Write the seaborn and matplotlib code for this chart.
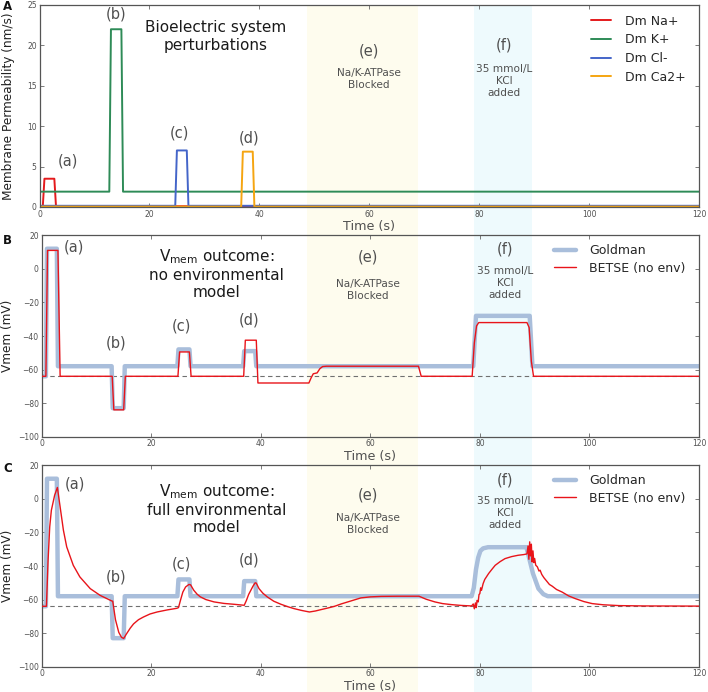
import numpy as np
import pandas as pd
import matplotlib
matplotlib.use("Agg")
import matplotlib.pyplot as plt
import matplotlib.transforms as mtransforms
from matplotlib.patches import Rectangle
from matplotlib.lines import Line2D
import seaborn as sns

# ---------------- data ----------------
x_ticks = [0, 20, 40, 60, 80, 100, 120]
yA_ticks = [0, 5, 10, 15, 20, 25]
yBC_ticks = [-100, -80, -60, -40, -20, 0, 20]

# Panel A: membrane permeabilities (nm/s)
na_t = [0, 0.6, 0.9, 2.7, 3.0, 120]
na_v = [0.1, 0.1, 3.5, 3.5, 0.1, 0.1]
k_t = [0, 12.7, 13.0, 14.9, 15.2, 120]
k_v = [1.9, 1.9, 22.0, 22.0, 1.9, 1.9]
cl_t = [0, 24.7, 25.0, 26.8, 27.1, 120]
cl_v = [0.15, 0.15, 7.0, 7.0, 0.15, 0.15]
ca_t = [0, 36.7, 37.0, 38.8, 39.1, 120]
ca_v = [0.05, 0.05, 6.85, 6.85, 0.05, 0.05]

# Panel B: Vmem, no environmental model (mV)
gB_t = [0, 0.8, 1.0, 2.8, 3.0, 12.8, 13.0, 15.0, 15.2, 24.8, 25.0, 27.0, 27.2,
        36.8, 37.0, 39.0, 39.2, 78.8, 79.3, 89.1, 89.6, 120]
gB_v = [-64, -64, 12, 12, -58, -58, -83, -83, -58, -58, -48, -48, -58,
        -58, -49, -49, -58, -58, -28, -28, -58, -58]
bB_t = [0, 0.8, 1.1, 3.0, 3.4, 12.9, 13.2, 15.0, 15.3, 24.9, 25.2, 27.0, 27.3,
        36.9, 37.2, 39.2, 39.5, 48.8, 49.2, 49.6, 50.3, 50.8, 51.3, 52.0, 68.8,
        69.3, 78.6, 79.0, 79.4, 79.8, 88.6, 89.0, 89.4, 89.8, 120]
bB_v = [-64, -64, 11, 11, -64, -64, -84, -84, -64, -64, -49.5, -49.5, -64,
        -64, -42.5, -42.5, -68, -68, -65, -62.5, -62, -59.5, -58.2, -58, -58,
        -64, -64, -44, -34, -32, -32, -35, -55, -64, -64]

# Panel C: Vmem, full environmental model (mV)
gC_t = [0, 0.8, 1.0, 2.8, 3.0, 12.8, 13.0, 15.0, 15.2, 24.8, 25.0, 27.0, 27.2,
        36.8, 37.0, 39.0, 39.2, 78.5, 78.9, 79.3, 79.7, 80.1, 80.6, 81.5, 88.5,
        89.1, 89.7, 90.7, 91.6, 92.4, 120]
gC_v = [-64, -64, 12, 12, -58, -58, -83, -83, -58, -58, -48, -48, -58,
        -58, -49, -49, -58, -58, -53, -42, -35, -31, -29.5, -28.8, -28.8,
        -36.6, -44.5, -53.5, -56.8, -58, -58]
bC_t = [0, 0.9, 1.2, 1.5, 1.8, 2.4, 2.9, 3.4, 4.0, 4.6, 5.8, 7.0, 8.9, 10.7,
        12.8, 13.0, 13.5, 14.1, 14.6, 15.0, 15.5, 16.2, 16.8, 17.7, 18.6, 19.8,
        21.1, 22.9, 24.7, 25.0, 25.4, 25.8, 26.3, 26.9, 27.2, 27.8, 28.4, 29.0,
        30.0, 31.5, 33.3, 35.1, 37.0, 37.4, 37.8, 38.2, 38.6, 39.0, 39.2, 39.7,
        40.4, 41.2, 42.4, 43.7, 45.0, 46.1, 47.5, 48.9, 50.0, 51.0, 52.3, 53.5,
        54.7, 55.9, 57.1, 58.3, 60.0, 62.0, 65.0, 68.9, 70.2, 71.8, 73.2, 74.8,
        76.6, 78.5, 78.8, 79.0, 79.2, 79.35, 79.5, 79.7, 79.85, 80.0, 80.15,
        80.3, 80.6, 80.9, 81.2, 81.6, 82.2, 82.8, 83.7, 84.6, 85.8, 87.0, 88.0,
        88.6, 88.8, 88.95, 89.1, 89.25, 89.4, 89.55, 89.7, 89.85, 90.0, 90.2,
        90.5, 90.8, 91.0, 91.3, 91.7, 92.2, 92.7, 93.2, 94.0, 95.0, 96.2, 97.4,
        99.0, 100.5, 102.5, 105.4, 110.0, 120.0]
bC_v = [-64, -64, -36.6, -16.7, -6.8, 2.2, 6.8, -4.8, -18.7, -28.6, -39.6,
        -46.5, -53.5, -57.5, -60.8, -61, -72, -79.5, -82.5, -83.2, -80.5, -77,
        -74.5, -72, -70.4, -68.6, -67.4, -66.2, -65.2, -64.8, -60, -55.5, -52.5,
        -51, -51.2, -54.5, -56.8, -58.4, -60, -61.4, -62.3, -62.8, -63.4, -60.5,
        -57, -54.5, -52, -50, -50.2, -53.5, -56.2, -58.4, -61, -62.8, -64.3,
        -65.4, -66.5, -67.4, -66.8, -66, -65, -64, -62.6, -61.4, -60.2, -59,
        -58.4, -58.1, -58, -58, -59.8, -61.4, -62.4, -63, -63.5, -63.8, -62.6,
        -65.5, -62, -64.8, -60.5, -61.4, -57, -56.5, -53, -54.5, -50.5, -48,
        -46.5, -44.5, -42, -39.6, -37.4, -35.6, -34.4, -33.6, -33.2, -32.8, -28,
        -36, -25.6, -34, -27, -37.6, -31, -38, -35.5, -39.5, -40.5, -43, -42.5,
        -45, -47, -49, -51, -52, -54, -55.5, -57.8, -59.4, -61.2, -62.4, -63.1,
        -63.6, -63.8, -63.9]

rest_line = -64
span_e = (48.5, 68.8)
span_f = (79.0, 89.6)

# ---------------- style ----------------
sns.set_style("ticks")
plt.rcParams["font.family"] = ["DejaVu Sans"]
plt.rcParams["mathtext.fontset"] = "dejavusans"

gray_txt = "#505050"
col_na, col_k, col_cl, col_ca = "#e41a1c", "#2e8b57", "#4465c9", "#f5a511"
col_gold, col_betse = "#a9bedb", "#e8141a"

fig = plt.figure(figsize=(7.08, 6.92), dpi=100)
W, H = 708, 692


def add_ax(left, top, right, bottom):
    return fig.add_axes([left / W, 1 - bottom / H, (right - left) / W, (bottom - top) / H])


axA = add_ax(39.5, 5, 699, 207)
axB = add_ax(41.5, 235.3, 699, 436.7)
axC = add_ax(41.5, 465.3, 699, 666.7)

# figure-wide shaded bands
trans = mtransforms.blended_transform_factory(axB.transData, fig.transFigure)
top_frac = 1 - 6 / H
for (x0, x1), fc in [(span_e, "#fefcee"), (span_f, "#eefafd")]:
    fig.add_artist(Rectangle((x0, 0), x1 - x0, top_frac, transform=trans,
                             facecolor=fc, edgecolor="none", zorder=-10))

# ---------------- panel A ----------------
dfA = pd.concat([
    pd.DataFrame({"t": na_t, "v": na_v, "ion": "Dm Na+"}),
    pd.DataFrame({"t": k_t, "v": k_v, "ion": "Dm K+"}),
    pd.DataFrame({"t": cl_t, "v": cl_v, "ion": "Dm Cl-"}),
    pd.DataFrame({"t": ca_t, "v": ca_v, "ion": "Dm Ca2+"}),
])
palA = {"Dm Na+": col_na, "Dm K+": col_k, "Dm Cl-": col_cl, "Dm Ca2+": col_ca}
sns.lineplot(data=dfA, x="t", y="v", hue="ion", palette=palA, sort=False,
             estimator=None, linewidth=1.4, ax=axA, legend=False)
axA.set_ylim(0, 25)
axA.set_yticks(yA_ticks)
axA.set_ylabel("Membrane Permeability (nm/s)", fontsize=8.7, color="#222222", labelpad=9)
handlesA = [Line2D([], [], color=c, lw=1.4) for c in palA.values()]
axA.legend(handlesA, list(palA.keys()), loc="upper right", frameon=False,
           fontsize=9, handlelength=1.6, handletextpad=1.1, labelspacing=0.45,
           bbox_to_anchor=(0.997, 1.008))

# ---------------- panel B / C ----------------
for ax, gt, gv, bt, bv in [(axB, gB_t, gB_v, bB_t, bB_v), (axC, gC_t, gC_v, bC_t, bC_v)]:
    ax.axhline(rest_line, color="#707070", lw=0.8, ls=(0, (4, 3)), zorder=1)
    sns.lineplot(x=gt, y=gv, sort=False, estimator=None, color=col_gold,
                 linewidth=3.2, ax=ax, zorder=2)
    sns.lineplot(x=bt, y=bv, sort=False, estimator=None, color=col_betse,
                 linewidth=1.0, ax=ax, zorder=3)
    ax.set_ylim(-100, 20)
    ax.set_yticks(yBC_ticks)
    ax.set_ylabel("Vmem (mV)", fontsize=8.7, color="#222222", labelpad=3)
    hb = [Line2D([], [], color=col_gold, lw=3.2), Line2D([], [], color=col_betse, lw=1.0)]
    ax.legend(hb, ["Goldman", "BETSE (no env)"], loc="upper right", frameon=False,
              fontsize=9, handlelength=1.7, handletextpad=1.1, labelspacing=0.35,
              bbox_to_anchor=(0.997, 1.012))

for ax in (axA, axB, axC):
    ax.set_facecolor("none")
    ax.set_xlim(0, 120)
    ax.set_xticks(x_ticks)
    ax.set_xlabel("Time (s)", fontsize=9.2, color=gray_txt, labelpad=1)
    ax.tick_params(direction="in", top=True, right=True, length=3, width=0.6,
                   colors="#666666", labelsize=5.5, labelcolor=gray_txt, pad=2)
    ax.tick_params(labelright=False, labeltop=False)
    for s in ax.spines.values():
        s.set_visible(True)
        s.set_color("#555555")
        s.set_linewidth(0.9)

# ---------------- annotations ----------------
lab_kw = dict(ha="center", va="center", color=gray_txt, fontsize=10.5)
small_kw = dict(ha="center", va="center", color=gray_txt, fontsize=7.6, linespacing=1.25)
title_kw = dict(ha="center", va="center", color="#1a1a1a", fontsize=11, linespacing=1.2)

axA.text(5.2, 5.75, "(a)", **lab_kw)
axA.text(13.9, 23.9, "(b)", **lab_kw)
axA.text(25.4, 9.2, "(c)", **lab_kw)
axA.text(38.1, 8.5, "(d)", **lab_kw)
axA.text(32.0, 21.1, "Bioelectric system\nperturbations", **title_kw)
axA.text(59.9, 19.3, "(e)", **lab_kw)
axA.text(59.9, 15.8, "Na/K-ATPase\nBlocked", **small_kw)
axA.text(84.6, 20.0, "(f)", **lab_kw)
axA.text(84.6, 15.6, "35 mmol/L\nKCl\nadded", **small_kw)

axB.text(5.9, 12.9, "(a)", **lab_kw)
axB.text(13.6, -43.9, "(b)", **lab_kw)
axB.text(25.5, -34.2, "(c)", **lab_kw)
axB.text(37.9, -30.4, "(d)", **lab_kw)
axB.text(31.9, -2.8, "V$_{\\mathrm{mem}}$ outcome:\nno environmental\nmodel", **title_kw)
axB.text(59.5, 6.8, "(e)", **lab_kw)
axB.text(59.5, -12.3, "Na/K-ATPase\nBlocked", **small_kw)
axB.text(84.6, 11.7, "(f)", **lab_kw)
axB.text(84.6, -8.3, "35 mmol/L\nKCl\nadded", **small_kw)

axC.text(6.1, 8.7, "(a)", **lab_kw)
axC.text(13.6, -46.5, "(b)", **lab_kw)
axC.text(25.5, -38.6, "(c)", **lab_kw)
axC.text(37.9, -36.6, "(d)", **lab_kw)
axC.text(31.9, -5.8, "V$_{\\mathrm{mem}}$ outcome:\nfull environmental\nmodel", **title_kw)
axC.text(59.5, 2.2, "(e)", **lab_kw)
axC.text(59.5, -15.1, "Na/K-ATPase\nBlocked", **small_kw)
axC.text(84.6, 11.1, "(f)", **lab_kw)
axC.text(84.6, -8.2, "35 mmol/L\nKCl\nadded", **small_kw)

for letter, ypx in [("A", 6), ("B", 240), ("C", 469)]:
    fig.text(3 / W, 1 - ypx / H, letter, fontsize=8.5, fontweight="bold",
             ha="left", va="center", color="#111111")

fig.savefig("out.png", dpi=100)
